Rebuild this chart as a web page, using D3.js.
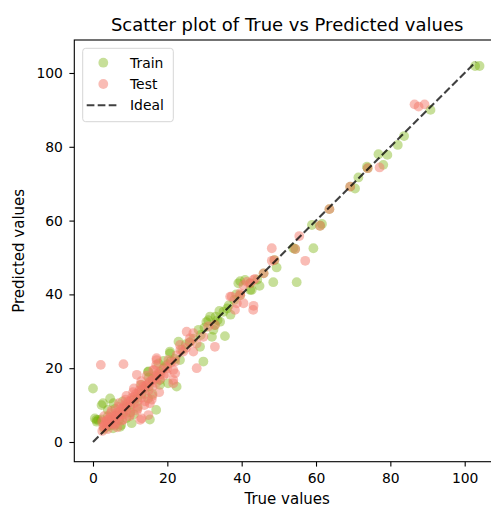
<!DOCTYPE html>
<html lang="en">
<head>
    <meta charset="UTF-8">
    <title>Scatter plot of True vs Predicted values</title>
    <script src="https://d3js.org/d3.v7.min.js"></script>
    <style>
        body { margin: 0; background: white; }
        svg { display: block; font-family: "DejaVu Sans", sans-serif; }
        .tick text { font-size: 13.9px; fill: #000; }
    </style>
</head>
<body>
<div id="chart"></div>
<script>
    // Train points [true, predicted]
    const trainPoints = [
        [102.8,101.9],[104,101.9],[90.8,90.0],[83.7,82.9],[82,80.5],[76.8,78],[79.2,77.8],
        [73.7,74.6],[78.1,75.1],[73.9,74.2],[71.4,71.7],[69.2,69.2],[70.5,68.7],[63.6,63.1],
        [58.9,58.8],[61.6,59.1],[61.1,58.6],[53.9,52.5],[54.4,52.3],[59.3,52.5],[48.8,49.3],
        [49.4,47.3],[45.9,45.7],[44.2,44.0],[54.8,43.3],[48.5,43.3],[39.6,43.6],[40.9,43.9],
        [44.8,42.3],[42.3,41.2],[39.6,39.8],[36.1,36.2],[42.3,43],[39.1,43],[42.7,41.2],
        [35.1,35.3],[37,34.5],[31.5,34],[34.2,32.6],[32.8,31.7],[32.4,30.4],[35.5,28.7],
        [32,28.5],[28.4,30.4],[28.8,25.8],[23,27.2],[20.7,24.5],[23.4,22.2],[29.7,21.8],
        [17.6,21.3],[18,16.8],[0,14.5],[14.9,19.1],[2.3,10],[4.6,11.8],[5.5,10.5],[0.5,6.4],
        [1.4,6],[1.0,5.5],[17,8.7],[15.3,6.1],[22.5,15],[20.7,24],[3.7,4.1],[7.3,4.1],
        [10.4,5.1],[5,4.6],[30,31],[31,33],[33,34],[34,35.5],[29,29],[27,28],[26,27],
        [30.5,32.5],[33.5,33],[36.5,37],[38,38.5],[38.5,40],[2.7,10.5],[2.2,6.1],[0.9,6],
        [7.6,4.6],[14.8,11.8],[14.8,19],[20.2,15.9],[4,8.7],[5.4,3.7],[3,3.5],[4,5],[5,6],
        [6,7],[7,6],[8,8],[9,9.5],[10,10],[11,11.5],[12,12],[13,13],[14,14.5],[15,15],
        [16,17],[17,18],[18,19],[19,20],[20,21],[21,22],[22,22.5],[24,25],[25,26.5],[6,9],
        [8,11],[10,8],[12,9.5],[13,15.5],[16,13],[18,15.5],[19,22],[4,7],[9,6.5],[11,7.5],
        [15,17.5]
    ];

    // Test points [true, predicted]
    const testPoints = [
        [86.5,91.5],[87.6,90.9],[89.2,91.5],[77.1,74.4],[73.9,74.2],[69.2,69.2],[63.6,63.1],
        [61.1,58.6],[55.5,55.8],[48.1,52.5],[54.4,52.3],[57.1,49.1],[48.1,49.1],[48.8,49.3],
        [45.9,45.7],[43.6,44.2],[41.4,43.4],[43.1,43.9],[40.5,42.5],[39.6,39.8],[37.3,39.4],
        [38.7,37.6],[43.2,36.9],[42.3,43],[39.6,40.3],[36.9,39.4],[40.5,37.6],[43.1,35.8],
        [38.2,35.8],[31,31.3],[32.8,31.7],[32.8,25.8],[25.2,29.9],[27,29.5],[29.7,28.5],
        [26.1,28.1],[27.9,26.7],[23.4,26.3],[27,24.5],[24.3,24.5],[27.9,20],[22.1,21.8],
        [20.3,22.2],[17.1,22.2],[16.2,19.5],[19.8,18.6],[21.6,19.5],[2.1,20.9],[8.2,21.1],
        [11.8,18.2],[13.1,6.4],[14.9,7.3],[15.3,10.5],[21.6,16.8],[22.1,18.6],[17.1,22.7],
        [12.7,6],[21.6,15.9],[17,20.9],
        [3,4],[3.5,5.5],[4,4.5],[4.5,6.5],[5,5],[5.5,7],[6,6],[6.5,8],[7,7],[7.5,9],[8,7.5],
        [8.5,10],[9,8.5],[9.5,11],[10,9.5],[10.5,12],[11,10.5],[11.5,13],[12,11],[12.5,14],
        [13,12],[13.5,15],[14,13],[14.5,15.5],[15,14],[15.5,16.5],[16,15],[16.5,17.5],[17,16],
        [17.5,18.5],[18,17],[18.5,19.5],[19,18],[19.5,20.5],[5,8.5],[7,10.5],[4,3.5],[6,5],
        [8,6],[10,7.5],[12,9],[9,12.5],[11,14.5],[13,16.5],[14,11],[16,12.5],[2.5,3],
        [2.5,5.5],[3,7],[6.5,4],[20,20],[21,21.5],[22.5,23.5],[23.5,25],[25,25.5],[26,27],
        [3.2,4.8],[4.2,5.8],[5.2,6.2],[6.2,7.2],[7.2,8.2],[8.2,9.2],[9.2,10.2],[10.2,11.2],
        [11.2,12.2],[12.2,13.2],[13.2,14.2],[14.2,15.2],[15.2,16.2],[16.2,16.8],[17.2,17.5],
        [18.2,18.4],[4.8,7.8],[6.8,9.5],[8.8,11.5],[10.8,13.5],[12.8,15.5],[5.8,4.6],[7.8,5.8],
        [9.8,7],[11.8,8.5],[13.8,10],[15.8,11.5],[17.8,13.5],[3.8,6],[2.8,4.2],[14.5,18],
        [16.5,19.5]
    ];

    // Ideal line endpoints
    const idealLine = [[0, 0], [103, 103]];

    const xTicks = [0, 20, 40, 60, 80, 100];
    const yTicks = [0, 20, 40, 60, 80, 100];
    const xLim = [-5.03, 109.5];
    const yLim = [-5.34, 108.94];

    const width = 491, height = 508;
    const margin = {left: 74.3, top: 40, right: 500, bottom: 461.7};

    const trainColor = "#72b000";
    const testColor = "#f47a6c";

    const svg = d3.select("#chart").append("svg")
        .attr("width", width)
        .attr("height", height);

    const x = d3.scaleLinear().domain(xLim).range([margin.left, margin.right]);
    const y = d3.scaleLinear().domain(yLim).range([margin.bottom, margin.top]);

    // Points
    svg.append("g").selectAll("circle")
        .data(trainPoints)
        .enter().append("circle")
        .attr("cx", d => x(d[0]))
        .attr("cy", d => y(d[1]))
        .attr("r", 4.9)
        .attr("fill", trainColor)
        .attr("fill-opacity", 0.4);

    svg.append("g").selectAll("circle")
        .data(testPoints)
        .enter().append("circle")
        .attr("cx", d => x(d[0]))
        .attr("cy", d => y(d[1]))
        .attr("r", 4.9)
        .attr("fill", testColor)
        .attr("fill-opacity", 0.5);

    // Ideal line
    svg.append("path")
        .datum(idealLine)
        .attr("d", d3.line().x(d => x(d[0])).y(d => y(d[1])))
        .attr("fill", "none")
        .attr("stroke", "#000")
        .attr("stroke-opacity", 0.75)
        .attr("stroke-width", 2.1)
        .attr("stroke-dasharray", "7.7,3.3");

    // Axes
    const xAxis = svg.append("g")
        .attr("transform", `translate(0,${margin.bottom})`)
        .call(d3.axisBottom(x).tickValues(xTicks).tickSize(4.9).tickPadding(7).tickSizeOuter(0));
    const yAxis = svg.append("g")
        .attr("transform", `translate(${margin.left},0)`)
        .call(d3.axisLeft(y).tickValues(yTicks).tickSize(4.9).tickPadding(6.5).tickSizeOuter(0));
    [xAxis, yAxis].forEach(a => {
        a.select(".domain").remove();
        a.selectAll(".tick line").attr("stroke", "#000").attr("stroke-width", 1.1);
        a.attr("font-family", null).attr("font-size", null);
    });

    // Spines
    svg.append("rect")
        .attr("x", margin.left)
        .attr("y", margin.top)
        .attr("width", margin.right - margin.left)
        .attr("height", margin.bottom - margin.top)
        .attr("fill", "none")
        .attr("stroke", "#000")
        .attr("stroke-width", 1.1);

    // Title and labels
    svg.append("text")
        .attr("x", (margin.left + margin.right) / 2)
        .attr("y", 31)
        .attr("text-anchor", "middle")
        .attr("font-size", "18px")
        .text("Scatter plot of True vs Predicted values");

    svg.append("text")
        .attr("x", (margin.left + margin.right) / 2)
        .attr("y", 504)
        .attr("text-anchor", "middle")
        .attr("font-size", "15px")
        .text("True values");

    svg.append("text")
        .attr("transform", `translate(23.5,${(margin.top + margin.bottom) / 2}) rotate(-90)`)
        .attr("text-anchor", "middle")
        .attr("font-size", "15px")
        .text("Predicted values");

    // Legend
    const legend = svg.append("g");
    legend.append("rect")
        .attr("x", 82.7).attr("y", 48.3)
        .attr("width", 90.6).attr("height", 73.4)
        .attr("rx", 3)
        .attr("fill", "white").attr("fill-opacity", 0.8)
        .attr("stroke", "#d6d6d6").attr("stroke-width", 1);

    const items = [
        {label: "Train", type: "dot", color: trainColor, op: 0.4},
        {label: "Test", type: "dot", color: testColor, op: 0.5},
        {label: "Ideal", type: "line"}
    ];
    items.forEach((it, i) => {
        const cy = 62.7 + i * 21.3;
        if (it.type === "dot") {
            legend.append("circle")
                .attr("cx", 103.3).attr("cy", cy).attr("r", 4.9)
                .attr("fill", it.color).attr("fill-opacity", it.op);
        } else {
            legend.append("line")
                .attr("x1", 86.7).attr("x2", 116.7)
                .attr("y1", cy).attr("y2", cy)
                .attr("stroke", "#000").attr("stroke-opacity", 0.75)
                .attr("stroke-width", 2.1).attr("stroke-dasharray", "7.7,3.3");
        }
        legend.append("text")
            .attr("x", 130).attr("y", cy + 5)
            .attr("font-size", "13.9px")
            .text(it.label);
    });
</script>
</body>
</html>
